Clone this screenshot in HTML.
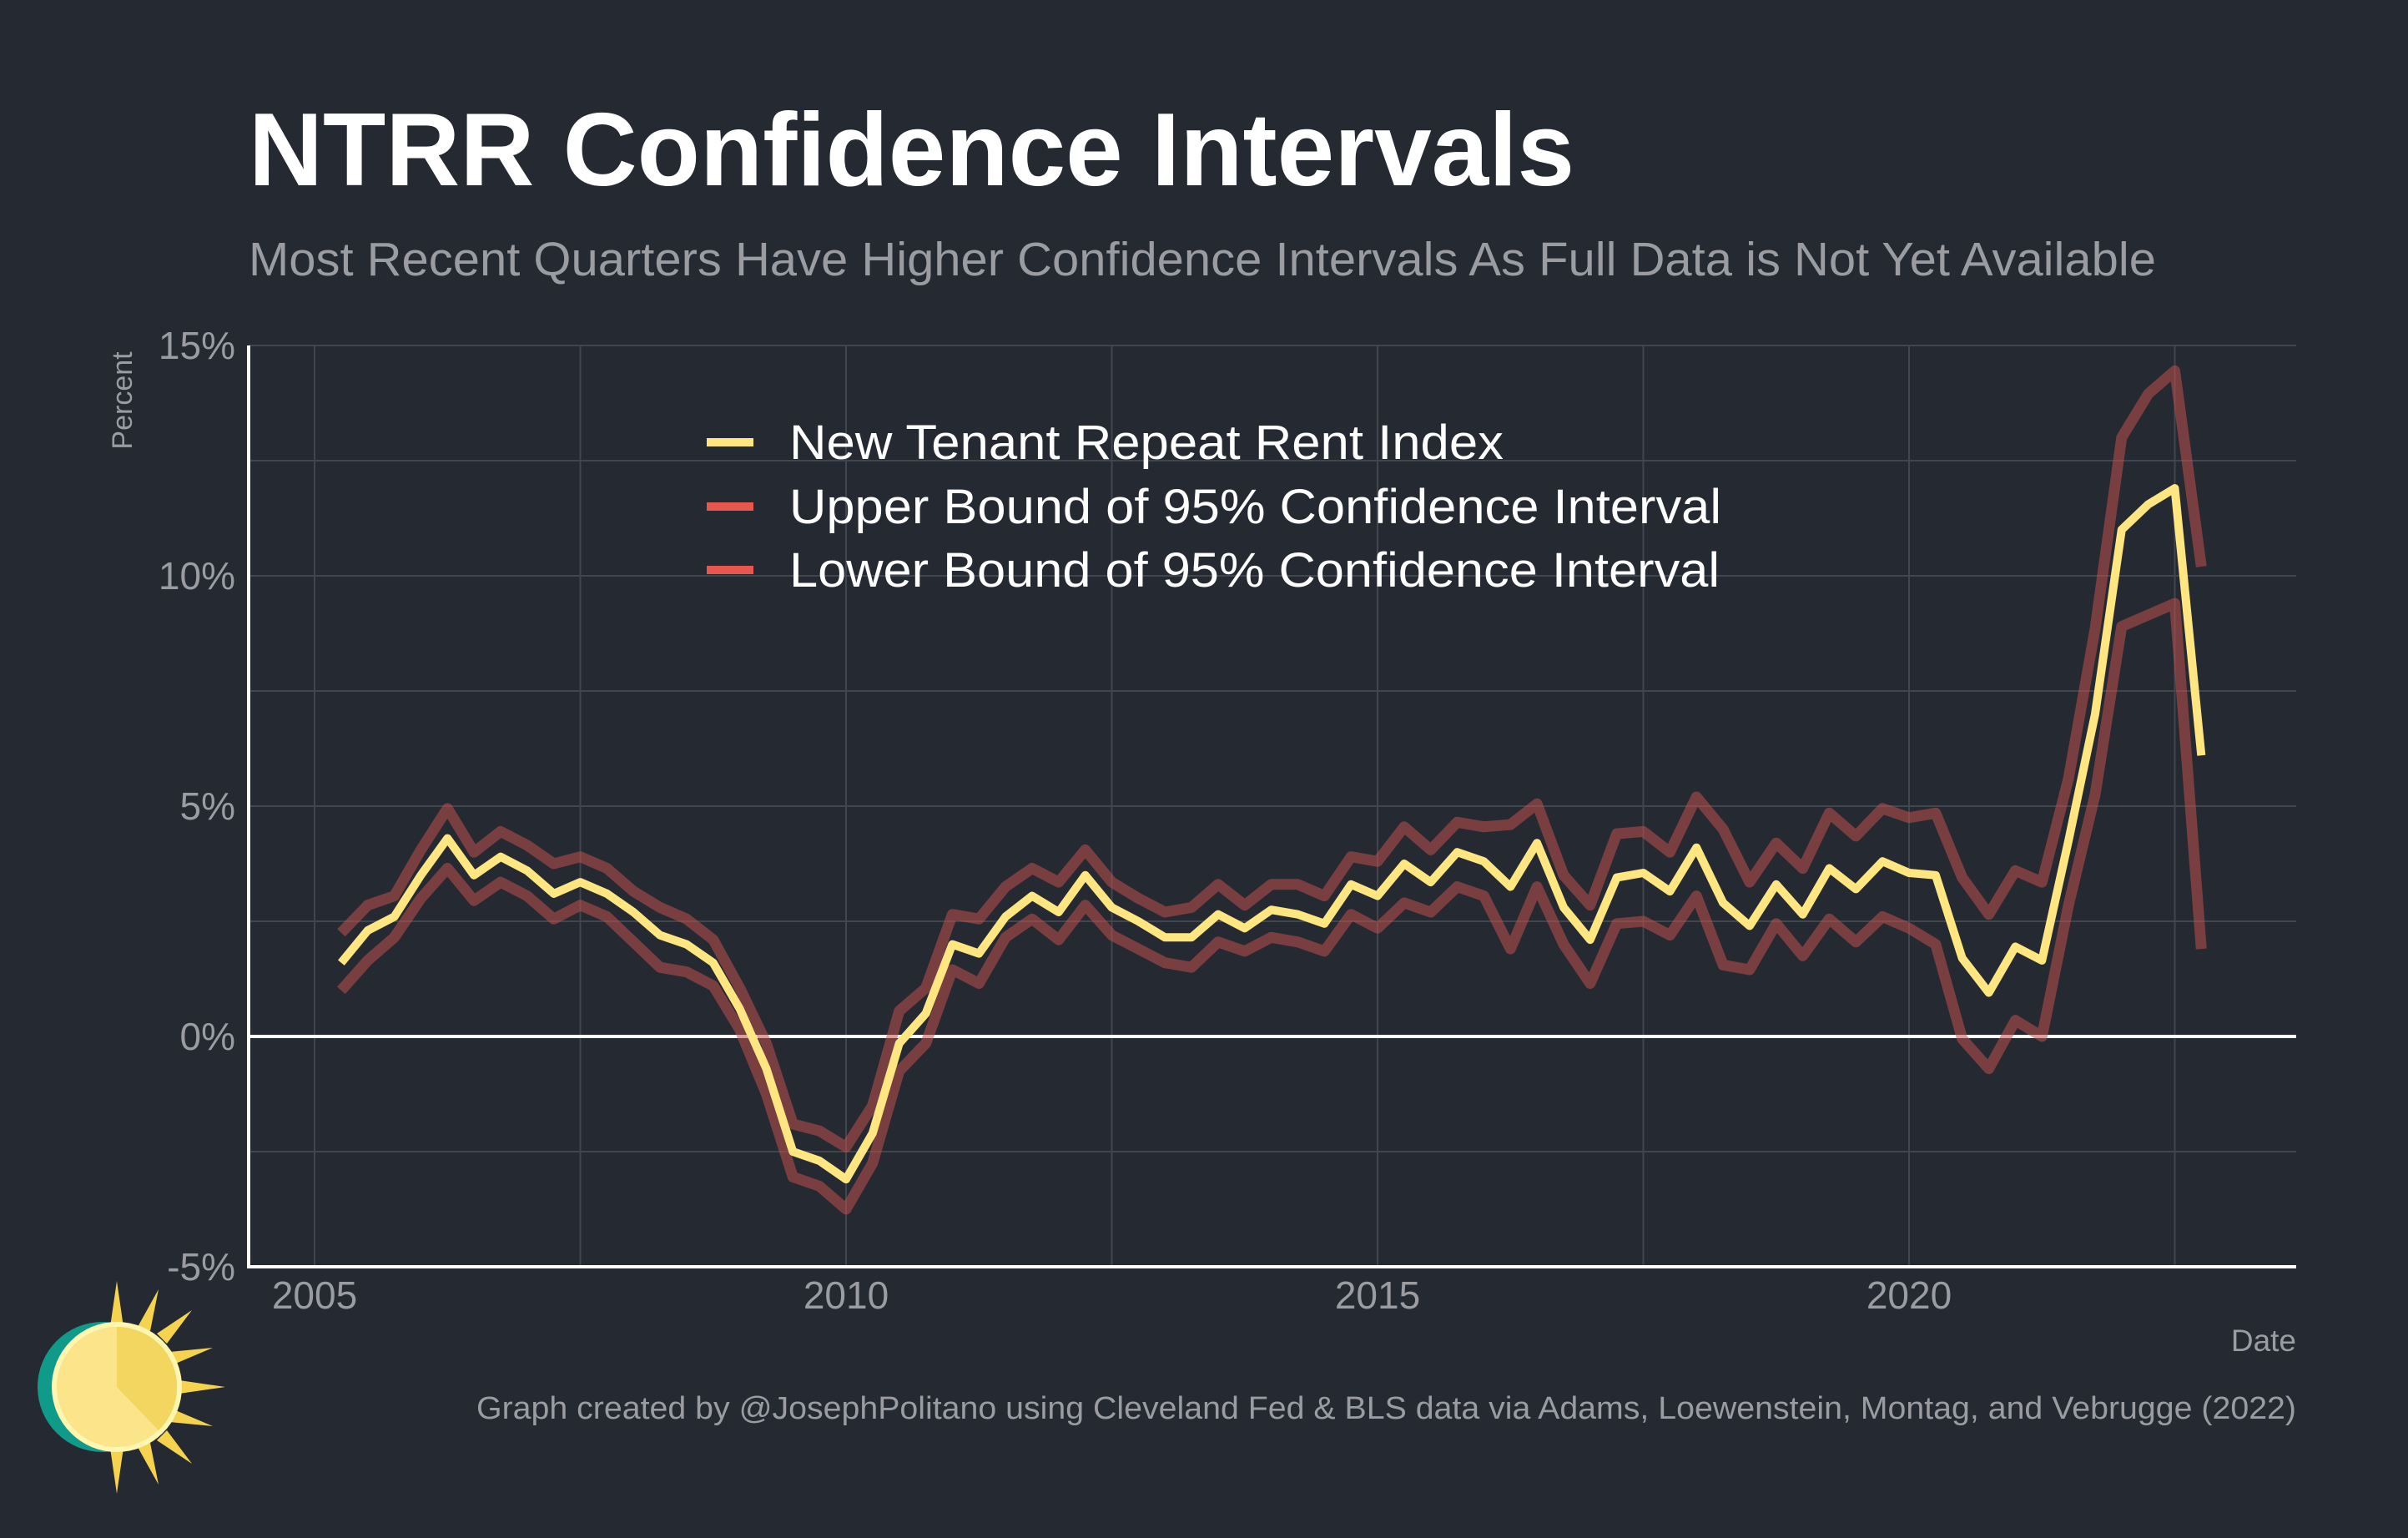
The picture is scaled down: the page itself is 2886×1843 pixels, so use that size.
<!DOCTYPE html>
<html><head><meta charset="utf-8"><style>
html,body{margin:0;padding:0;background:#252932;}
svg{display:block;font-family:"Liberation Sans",Arial,sans-serif;}
</style></head><body>
<svg id="chart" width="2886" height="1843" viewBox="0 0 2886 1843">
<rect width="2886" height="1843" fill="#252932"/>
<text x="298" y="222" font-size="124" font-weight="bold" fill="#ffffff" textLength="1589" lengthAdjust="spacingAndGlyphs">NTRR Confidence Intervals</text>
<text x="298" y="330" font-size="57" fill="#9a9ca1" textLength="2286" lengthAdjust="spacingAndGlyphs">Most Recent Quarters Have Higher Confidence Intervals As Full Data is Not Yet Available</text>
<g id="grid"></g>
<g id="yticks"></g>
<g id="xticks"></g>
<g id="series"></g>
<text transform="translate(158,480) rotate(-90)" text-anchor="middle" font-size="34" fill="#9a9ca1">Percent</text>
<text x="2752" y="1619" text-anchor="end" font-size="37" fill="#9a9ca1">Date</text>
<text x="571" y="1700" font-size="38" fill="#9a9ca1" textLength="2181" lengthAdjust="spacingAndGlyphs">Graph created by @JosephPolitano using Cleveland Fed &amp; BLS data via Adams, Loewenstein, Montag, and Vebrugge (2022)</text>
<g>
<g><line x1="847" y1="530" x2="903" y2="530" stroke="#ffe680" stroke-width="10"/><text x="946" y="550" font-size="58" fill="#ffffff" textLength="856" lengthAdjust="spacingAndGlyphs">New Tenant Repeat Rent Index</text></g>
<g><line x1="847" y1="607" x2="903" y2="607" stroke="#e8574d" stroke-width="10"/><text x="946" y="627" font-size="58" fill="#ffffff" textLength="1117" lengthAdjust="spacingAndGlyphs">Upper Bound of 95% Confidence Interval</text></g>
<g><line x1="847" y1="683" x2="903" y2="683" stroke="#e8574d" stroke-width="10"/><text x="946" y="703" font-size="58" fill="#ffffff" textLength="1115" lengthAdjust="spacingAndGlyphs">Lower Bound of 95% Confidence Interval</text></g>
</g>
<g>
<circle cx="123" cy="1662" r="78" fill="#0f9a8a"/>
<g fill="#f5d34f">
<polygon points="140,1535 148,1590 132,1590"/><polygon points="140,1790 148,1735 132,1735"/>
<polygon points="270,1662 215,1670 215,1654"/>
<polygon points="230,1570 200,1610 188,1598"/><polygon points="230,1754 200,1714 188,1726"/>
<polygon points="190,1545 180,1595 165,1590"/><polygon points="190,1779 180,1729 165,1734"/>
<polygon points="255,1615 208,1635 203,1620"/><polygon points="255,1709 208,1689 203,1704"/>
</g>
<circle cx="140" cy="1662" r="78" fill="#fff6b0"/>
<circle cx="140" cy="1662" r="72" fill="#fbe48a"/>
<path d="M140,1662 L140,1590 A72,72 0 0 1 190,1714 Z" fill="#f3d660"/>
</g>
<script>
const years = [2005,2010,2015,2020];
const yTicks = [-5,0,5,10,15];
const yTickLabels = ["-5%","0%","5%","10%","15%"];
const startYear = 2005.25;
const ntrr = [1.6,2.3,2.6,3.5,4.3,3.5,3.9,3.6,3.1,3.35,3.1,2.7,2.2,2.0,1.6,0.6,-0.7,-2.5,-2.7,-3.1,-2.1,-0.15,0.5,2.0,1.8,2.6,3.05,2.7,3.5,2.8,2.5,2.15,2.15,2.65,2.35,2.75,2.65,2.45,3.3,3.05,3.75,3.35,4.0,3.8,3.25,4.2,2.8,2.1,3.45,3.55,3.15,4.1,2.9,2.4,3.3,2.65,3.65,3.2,3.8,3.55,3.5,1.7,0.95,1.95,1.65,4.25,7.0,11.0,11.55,11.9,6.1];
const upper = [2.25,2.85,3.05,4.05,4.95,4.0,4.45,4.15,3.75,3.9,3.65,3.15,2.8,2.55,2.1,1.05,-0.15,-1.9,-2.05,-2.4,-1.5,0.55,1.05,2.65,2.55,3.25,3.65,3.35,4.05,3.35,3.0,2.7,2.8,3.3,2.85,3.3,3.3,3.05,3.9,3.8,4.55,4.05,4.65,4.55,4.6,5.05,3.5,2.85,4.4,4.45,4.0,5.2,4.5,3.35,4.2,3.65,4.85,4.35,4.95,4.75,4.85,3.45,2.65,3.6,3.35,5.6,8.85,13.0,13.95,14.45,10.2];
const lower = [1.0,1.65,2.15,3.0,3.65,2.95,3.35,3.05,2.55,2.85,2.6,2.05,1.5,1.4,1.1,0.15,-1.25,-3.05,-3.25,-3.75,-2.75,-0.75,-0.15,1.45,1.15,2.15,2.55,2.1,2.85,2.2,1.9,1.6,1.5,2.05,1.85,2.15,2.05,1.85,2.65,2.35,2.9,2.7,3.25,3.05,1.9,3.25,2.0,1.15,2.45,2.5,2.2,3.05,1.55,1.45,2.45,1.75,2.55,2.05,2.6,2.35,2.0,-0.05,-0.7,0.35,0.0,2.85,5.25,8.9,9.15,9.4,1.9];

const NS="http://www.w3.org/2000/svg";
const L=298,R=2752,T=414,B=1518;
const xS=t=>377+(t-2005)*127.4;
const yS=v=>B-(v+5)/20*(B-T);
function mk(tag,attrs,parent){const e=document.createElementNS(NS,tag);for(const k in attrs)e.setAttribute(k,attrs[k]);parent.appendChild(e);return e;}
const grid=document.getElementById('grid');
for(let v=-2.5;v<=15;v+=2.5){const l=mk('line',{x1:L,x2:R,y1:yS(v),y2:yS(v),stroke:'#41454e','stroke-width':2},grid);

}
for(let t=2005;t<=2022.5;t+=2.5){const l=mk('line',{x1:xS(t),x2:xS(t),y1:T,y2:B,stroke:'#41454e','stroke-width':2},grid);

}
const yt=document.getElementById('yticks');
yTicks.forEach((v,i)=>{const e=mk('text',{x:282,y:yS(v)+16,'text-anchor':'end','font-size':46,fill:'#9a9ca1'},yt);e.textContent=yTickLabels[i];

});
const xt=document.getElementById('xticks');
years.forEach(y=>{const e=mk('text',{x:xS(y),y:1568,'text-anchor':'middle','font-size':46,fill:'#9a9ca1'},xt);e.textContent=String(y);

});
const s=document.getElementById('series');
const z=mk('line',{x1:L,x2:R,y1:yS(0),y2:yS(0),stroke:'#ffffff','stroke-width':4},s);


const ax=mk('path',{d:`M${L},${T} L${L},${B} L${R},${B}`,fill:'none',stroke:'#ffffff','stroke-width':4},s);


function pts(arr){return arr.map((v,i)=>xS(startYear+i*0.25).toFixed(1)+','+yS(v).toFixed(1)).join(' ');}
const up=mk('polyline',{points:pts(upper),fill:'none',stroke:'#c0504d','stroke-opacity':0.55,'stroke-width':13,'stroke-linejoin':'round'},s);


const lo=mk('polyline',{points:pts(lower),fill:'none',stroke:'#c0504d','stroke-opacity':0.55,'stroke-width':13,'stroke-linejoin':'round'},s);


const nt=mk('polyline',{points:pts(ntrr),fill:'none',stroke:'#ffe680','stroke-width':10,'stroke-linejoin':'round'},s);


</script>
</svg>
</body></html>
